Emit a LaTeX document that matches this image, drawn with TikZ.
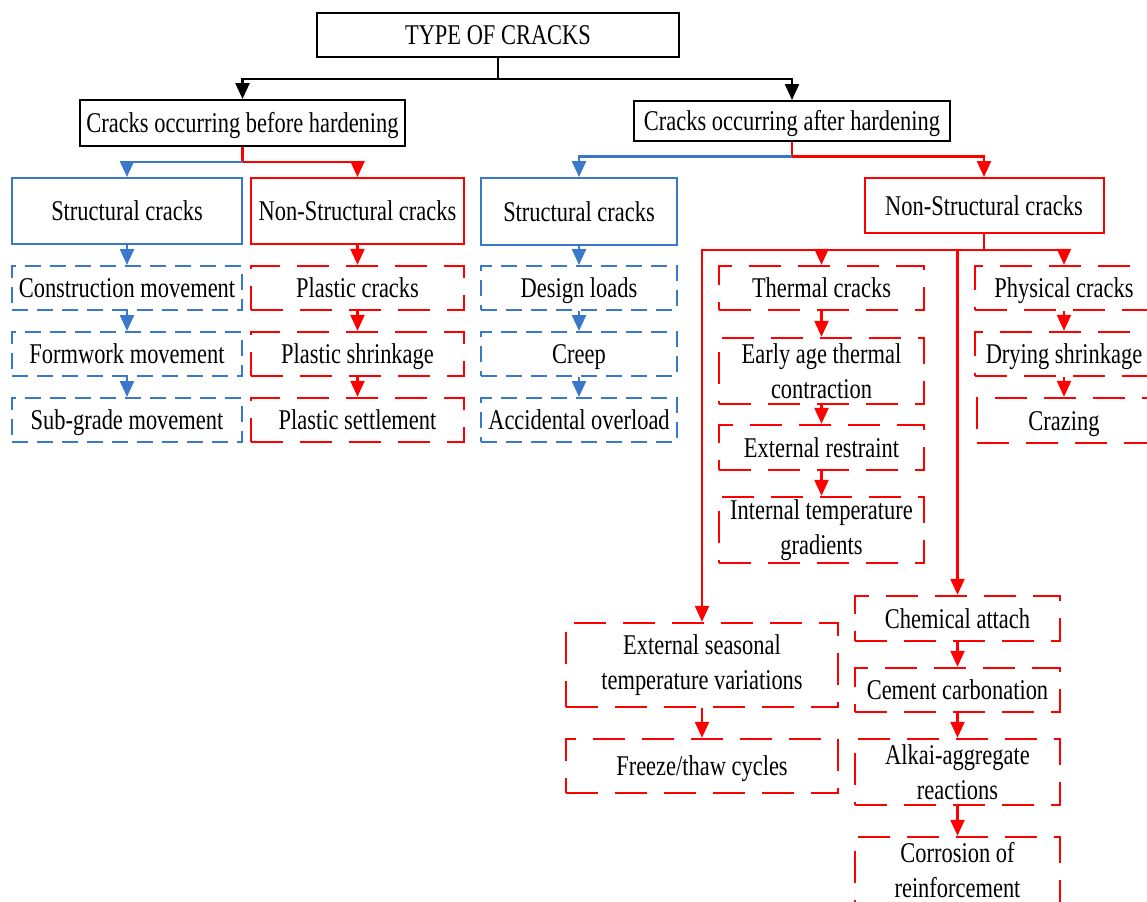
\documentclass[tikz,border=0pt]{standalone}
\usepackage{fontspec}
\setmainfont{Liberation Serif}[FakeStretch=0.785]
\usetikzlibrary{arrows.meta}
\definecolor{sblue}{RGB}{58,120,204}
\definecolor{sred}{RGB}{255,0,0}
\begin{document}
\begin{tikzpicture}[x=0.5pt,y=-0.5pt,
  font=\fontsize{14.3pt}{17.5pt}\selectfont,
  tip/.style={-{Triangle[width=7pt,length=8pt]}},
  box/.style={rectangle,inner sep=0pt,align=center,line width=1pt},
  one/.style={text height=10.5pt,text depth=0.7pt},
  blackbox/.style={box,one,draw=black},
  bluebox/.style={box,one,draw=sblue},
  redbox/.style={box,one,draw=sred},
  bluedash/.style={box,draw=sblue,dash pattern=on 8pt off 4.5pt},
  reddash/.style={box,draw=sred,line width=1.2pt,dash pattern=on 16pt off 8.5pt},
  kline/.style={line width=1.2pt,draw=black,tip},
  bline/.style={line width=1.2pt,draw=sblue,tip},
  rline/.style={line width=1.2pt,draw=sred,tip},
]
\useasboundingbox (0,0) rectangle (1147,901);
\clip (0,0) rectangle (1147,901);

% ---- top levels ----
\node[blackbox,minimum width=181pt,minimum height=22pt] (top) at (498,35) {TYPE OF CRACKS};
\node[blackbox,minimum width=162.5pt,minimum height=23pt] (before) at (242.5,123) {Cracks occurring before hardening};
\node[blackbox,minimum width=158pt,minimum height=20pt] (after) at (792,121) {Cracks occurring after hardening};

% ---- before hardening ----
\node[bluebox,minimum width=115pt,minimum height=33pt] (sL) at (127,211) {Structural cracks};
\node[redbox,minimum width=106.5pt,minimum height=33pt] (nsL) at (357.5,211) {Non-Structural cracks};

\node[bluedash,one,minimum width=115pt,minimum height=22pt] (cm) at (127,288) {Construction movement};
\node[bluedash,one,minimum width=115pt,minimum height=22pt] (fm) at (127,354) {Formwork movement};
\node[bluedash,one,minimum width=115pt,minimum height=22pt] (sg) at (127,420) {Sub-grade movement};

\node[reddash,one,minimum width=106.5pt,minimum height=22pt] (pc) at (357.5,288) {Plastic cracks};
\node[reddash,one,minimum width=106.5pt,minimum height=22pt] (ps) at (357.5,354) {Plastic shrinkage};
\node[reddash,one,minimum width=106.5pt,minimum height=22pt] (pst) at (357.5,420) {Plastic settlement};

% ---- after hardening ----
\node[bluebox,minimum width=98pt,minimum height=33.5pt] (sM) at (579,211.5) {Structural cracks};
\node[bluedash,one,minimum width=98pt,minimum height=22pt] (dl) at (579,288) {Design loads};
\node[bluedash,one,minimum width=98pt,minimum height=22pt] (cr) at (579,354) {Creep};
\node[bluedash,one,minimum width=98pt,minimum height=22pt] (ao) at (579,420) {Accidental overload};

\node[redbox,minimum width=119.5pt,minimum height=27.5pt] (nsR) at (984,205.5) {Non-Structural cracks};

\node[reddash,one,minimum width=102.5pt,minimum height=22pt] (th) at (821.5,288) {Thermal cracks};
\node[reddash,minimum width=102.5pt,minimum height=33pt] (ea) at (821.5,371) {Early age thermal\\contraction};
\node[reddash,one,minimum width=102.5pt,minimum height=22.5pt] (er) at (821.5,447.5) {External restraint};
\node[reddash,minimum width=102.5pt,minimum height=33pt] (it) at (821.5,530) {Internal temperature\\gradients};

\node[reddash,one,minimum width=89pt,minimum height=22pt] (ph) at (1064,288) {Physical cracks};
\node[reddash,one,minimum width=89pt,minimum height=22pt] (ds) at (1064,354) {Drying shrinkage};
\node[reddash,one,minimum width=87pt,minimum height=22.5pt] (cz) at (1064,420.5) {Crazing};

\node[reddash,minimum width=136pt,minimum height=42pt] (es) at (702,665) {External seasonal\\temperature variations};
\node[reddash,one,minimum width=136pt,minimum height=27pt] (ft) at (702,766) {Freeze/thaw cycles};

\node[reddash,one,minimum width=102.5pt,minimum height=22.5pt] (ca) at (957.5,618.5) {Chemical attach};
\node[reddash,one,minimum width=102.5pt,minimum height=22pt] (cc) at (957.5,690) {Cement carbonation};
\node[reddash,minimum width=102.5pt,minimum height=33pt] (ak) at (957.5,772) {Alkai-aggregate\\reactions};
\node[reddash,minimum width=102.5pt,minimum height=33pt] (co) at (957.5,870) {Corrosion of\\reinforcement};

% ---- junction points ----
\coordinate (j0) at (498,79);
\coordinate (j1) at (242.5,162);
\coordinate (j2) at (792,156.5);
\coordinate (j3) at (984,250);

% ---- connectors ----
\draw[kline] (top.south) -- (j0) -| (before.north);
\draw[kline] (j0) -| (after.north);

\draw[rline] (before.south) -- (j1) -| (nsL.north);
\draw[bline] (j1) -| (sL.north);
\draw[rline] (after.south) -- (j2) -| (nsR.north);
\draw[bline] (j2) -| (sM.north);

\draw[bline] (sL) -- (cm);
\draw[bline] (cm) -- (fm);
\draw[bline] (fm) -- (sg);
\draw[rline] (nsL) -- (pc);
\draw[rline] (pc) -- (ps);
\draw[rline] (ps) -- (pst);
\draw[bline] (sM) -- (dl);
\draw[bline] (dl) -- (cr);
\draw[bline] (cr) -- (ao);

\draw[line width=1.2pt,draw=sred] (nsR.south) -- (j3);
\draw[rline] (j3) -| (es.north);
\draw[rline] (j3) -| (th.north);
\draw[rline] (j3) -| (ph.north);
\draw[rline] (j3) -| (ca.north);

\draw[rline] (th) -- (ea);
\draw[rline] (ea) -- (er);
\draw[rline] (er) -- (it);
\draw[rline] (ph) -- (ds);
\draw[rline] (ds) -- (cz);
\draw[rline] (es) -- (ft);
\draw[rline] (ca) -- (cc);
\draw[rline] (cc) -- (ak);
\draw[rline] (ak) -- (co);
\end{tikzpicture}
\end{document}
